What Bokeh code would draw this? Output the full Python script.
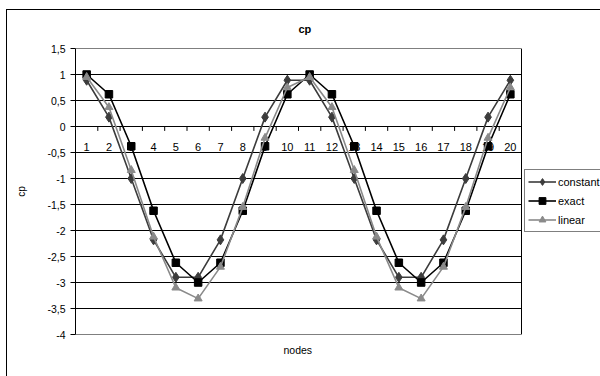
from bokeh.plotting import figure
from bokeh.models import (FixedTicker, Legend, LegendItem, Title, InlineStyleSheet)
from bokeh.core.properties import value
from bokeh.embed import file_html
from bokeh.resources import INLINE

# ---- data ----
nodes = [1, 2, 3, 4, 5, 6, 7, 8, 9, 10, 11, 12, 13, 14, 15, 16, 17, 18, 19, 20]
node_labels = ["1", "2", "3", "4", "5", "6", "7", "8", "9", "10",
               "11", "12", "13", "14", "15", "16", "17", "18", "19", "20"]
constant = [0.89, 0.18, -1.0, -2.18, -2.9, -2.9, -2.18, -1.0, 0.18, 0.89,
            0.89, 0.18, -1.0, -2.18, -2.9, -2.9, -2.18, -1.0, 0.18, 0.89]
exact = [1.0, 0.62, -0.38, -1.62, -2.62, -3.0, -2.62, -1.62, -0.38, 0.62,
         1.0, 0.62, -0.38, -1.62, -2.62, -3.0, -2.62, -1.62, -0.38, 0.62]
linear = [0.95, 0.37, -0.84, -2.12, -3.1, -3.31, -2.7, -1.55, -0.22, 0.75,
          0.95, 0.37, -0.84, -2.12, -3.1, -3.31, -2.7, -1.55, -0.22, 0.75]
y_ticks = [-4, -3.5, -3, -2.5, -2, -1.5, -1, -0.5, 0, 0.5, 1, 1.5]
y_tick_labels = ["-4", "-3,5", "-3", "-2,5", "-2", "-1,5", "-1", "-0,5", "0", "0,5", "1", "1,5"]

FONT = "Liberation Sans"

# layout: plot area is 446 px wide, frame extends to the right edge so the legend can sit there
LEFT = 75
PLOT_PX = 446
FRAME_PX = 600 - LEFT
x_start = nodes[0] - 0.5
x_end = x_start + len(nodes) * FRAME_PX / PLOT_PX
x_lo, x_hi = nodes[0] - 0.5, nodes[-1] + 0.5

border_css = InlineStyleSheet(css="""
:host::after {
  content: ""; position: absolute; left: 6px; top: 9px; right: 0px; bottom: 0px;
  border-left: 1px solid black; border-top: 1px solid black; pointer-events: none;
}
""")

p = figure(width=600, height=376, output_backend="svg", toolbar_location=None,
           x_range=(x_start, x_end), y_range=(y_ticks[0], y_ticks[-1]),
           x_axis_location=None,
           min_border_left=LEFT, min_border_right=0, min_border_top=48, min_border_bottom=42,
           stylesheets=[border_css])
p.background_fill_color = "white"
p.border_fill_color = "white"
p.outline_line_color = None
p.xgrid.visible = False
p.ygrid.visible = False

# title (above) and x-axis title (below)
p.add_layout(Title(text="cp", align="left", offset=223, standoff=28,
                   text_font=FONT, text_font_size="11px", text_font_style="bold",
                   text_color="black"), "above")
p.add_layout(Title(text="nodes", align="left", offset=208, standoff=15,
                   text_font=FONT, text_font_size="10.5px", text_font_style="normal",
                   text_color="black"), "below")

# y axis
p.yaxis.ticker = FixedTicker(ticks=y_ticks)
p.yaxis.bounds = (y_ticks[0], y_ticks[-1])
p.yaxis.major_label_overrides = {t: l for t, l in zip(y_ticks, y_tick_labels)}
p.yaxis.major_label_text_font = FONT
p.yaxis.major_label_text_font_size = "10.5px"
p.yaxis.major_label_text_color = "black"
p.yaxis.major_tick_out = 5
p.yaxis.major_tick_in = 0
p.yaxis.minor_tick_line_color = None
p.yaxis.major_label_standoff = 5
p.yaxis.axis_line_color = "black"
p.yaxis.major_tick_line_color = "black"
p.yaxis.axis_label = "cp"
p.yaxis.axis_label_text_font = FONT
p.yaxis.axis_label_text_font_size = "10px"
p.yaxis.axis_label_text_font_style = "normal"
p.yaxis.axis_label_text_color = "black"
p.yaxis.axis_label_standoff = 17

# horizontal gridlines across the plot area (incl. top/bottom border and the 0 axis)
p.segment(x0=[x_lo] * len(y_ticks), x1=[x_hi] * len(y_ticks), y0=y_ticks, y1=y_ticks,
          line_color="black", line_width=1)
# right border of the plot area
p.segment(x0=[x_hi], x1=[x_hi], y0=[y_ticks[0]], y1=[y_ticks[-1]],
          line_color="black", line_width=1)

# category axis crossing at 0: tick marks and labels
bounds = [n - 0.5 for n in nodes] + [nodes[-1] + 0.5]
p.segment(x0=bounds, x1=bounds, y0=[0] * len(bounds), y1=[-0.085] * len(bounds),
          line_color="black", line_width=1)
p.text(x=nodes, y=[0] * len(nodes), text=node_labels, y_offset=20,
       text_font=value(FONT), text_font_size="11px", text_align="center",
       text_baseline="middle", text_color="black")

# series
c_const, c_exact, c_lin = "#3c3c3c", "#000000", "#8a8a8a"
l1 = p.line(nodes, constant, line_color=c_const, line_width=1.6)
m1 = p.scatter(nodes, constant, marker="diamond", size=10, fill_color=c_const, line_color=c_const)
l2 = p.line(nodes, exact, line_color=c_exact, line_width=1.6)
m2 = p.scatter(nodes, exact, marker="square", size=7.5, fill_color=c_exact, line_color=c_exact)
l3 = p.line(nodes, linear, line_color=c_lin, line_width=1.6)
m3 = p.scatter(nodes, linear, marker="triangle", size=8, fill_color=c_lin, line_color=c_lin)

legend = Legend(items=[LegendItem(label="constant", renderers=[l1, m1]),
                       LegendItem(label="exact", renderers=[l2, m2]),
                       LegendItem(label="linear", renderers=[l3, m3])],
                location=(449, 102), orientation="vertical")
legend.label_text_font = FONT
legend.label_text_font_size = "11px"
legend.label_text_color = "black"
legend.glyph_width = 28
legend.glyph_height = 17
legend.label_height = 17
legend.label_standoff = 2
legend.padding = 3
legend.spacing = 2
legend.margin = 0
legend.border_line_color = "black"
legend.border_line_width = 1
legend.background_fill_color = "white"
legend.background_fill_alpha = 1
p.add_layout(legend, "center")

open("out.html", "w").write(file_html(p, INLINE))
